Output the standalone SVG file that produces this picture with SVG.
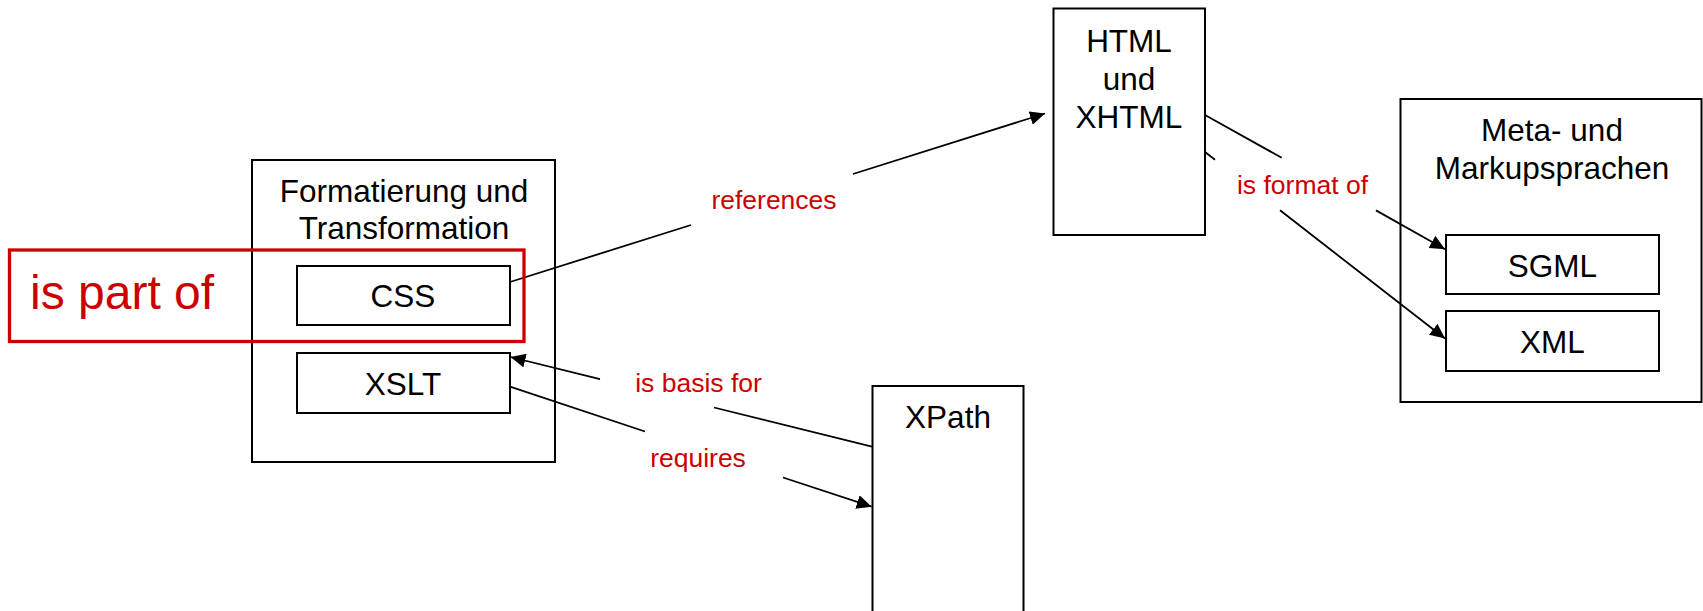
<svg xmlns="http://www.w3.org/2000/svg" width="1703" height="611" viewBox="0 0 1703 611">
<defs>
<style>
.box{fill:#fff;stroke:#000;stroke-width:2}
.lbl{font-family:"Liberation Sans",Arial,sans-serif;font-size:31.5px;fill:#000;text-anchor:middle}
.elbl{font-family:"Liberation Sans",Arial,sans-serif;font-size:26.5px;fill:#cc0000;text-anchor:middle}
.conn{fill:none;stroke:#000;stroke-width:1.8}
.hl{fill:none;stroke:#cc0000;stroke-width:3.3}
</style>
<marker id="ah" markerUnits="userSpaceOnUse" markerWidth="16" markerHeight="14" viewBox="0 0 16 14" refX="15" refY="7" orient="auto">
<path d="M0,0 L15,7 L0,14 Z" fill="#000"/>
</marker>
</defs>
<rect width="1703" height="611" fill="#fff"/>
<g id="formatierung">
<rect class="box" x="252" y="160" width="303" height="302"/>
<text class="lbl" x="404" y="201.5">Formatierung und</text>
<text class="lbl" x="404" y="239">Transformation</text>
</g>
<g id="css">
<rect class="box" x="297" y="266" width="213" height="59"/>
<text class="lbl" x="403" y="307">CSS</text>
</g>
<g id="xslt">
<rect class="box" x="297" y="353" width="213" height="60"/>
<text class="lbl" x="403" y="395">XSLT</text>
</g>
<g id="html">
<rect class="box" x="1053.5" y="8.5" width="151.5" height="226.5"/>
<text class="lbl" x="1129" y="51.5">HTML</text>
<text class="lbl" x="1129" y="89.5">und</text>
<text class="lbl" x="1129" y="127.5">XHTML</text>
</g>
<g id="meta">
<rect class="box" x="1400.5" y="99" width="301" height="303"/>
<text class="lbl" x="1552" y="140.5">Meta- und</text>
<text class="lbl" x="1552" y="179">Markupsprachen</text>
</g>
<g id="sgml">
<rect class="box" x="1446" y="235" width="213" height="59"/>
<text class="lbl" x="1552.5" y="276.5">SGML</text>
</g>
<g id="xml">
<rect class="box" x="1446" y="311" width="213" height="60"/>
<text class="lbl" x="1552.5" y="353">XML</text>
</g>
<g id="xpath">
<rect class="box" x="872.5" y="386" width="151" height="240"/>
<text class="lbl" x="948" y="428">XPath</text>
</g>
<g id="connectors">
<path class="conn" d="M510,282 L691,225 M853,174 L1045,113.5" marker-end="url(#ah)"/>
<path class="conn" d="M872,446.7 L714,407.5 M600,379.2 L510.5,357" marker-end="url(#ah)"/>
<path class="conn" d="M510,386.7 L645,431.5 M783,477.5 L871.7,506.7" marker-end="url(#ah)"/>
<path class="conn" d="M1205,115 L1281.7,157.8 M1376,210.4 L1445,249.3" marker-end="url(#ah)"/>
<path class="conn" d="M1205,152 L1215,159.8 M1280,210.3 L1445,338.5" marker-end="url(#ah)"/>
<text class="elbl" x="774" y="209">references</text>
<text class="elbl" x="698.5" y="392">is basis for</text>
<text class="elbl" x="698" y="467">requires</text>
<text class="elbl" x="1302.5" y="194">is format of</text>
</g>
<g id="is-part-of">
<rect class="hl" x="9.5" y="250" width="514.5" height="91.5"/>
<text x="30" y="309" style="font-family:'Liberation Sans',Arial,sans-serif;font-size:48px;fill:#cc0000">is part of</text>
</g>
</svg>
